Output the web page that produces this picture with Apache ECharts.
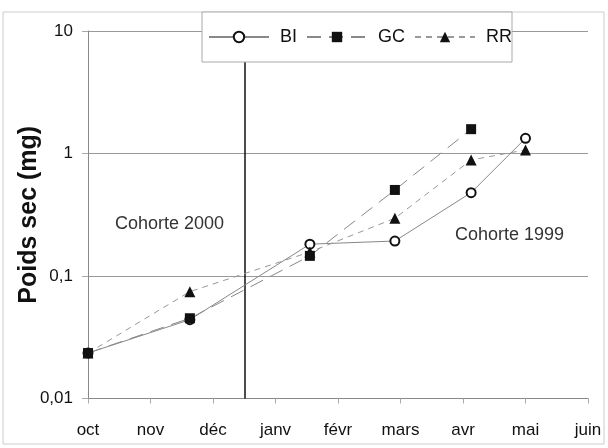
<!DOCTYPE html>
<html><head><meta charset="utf-8">
<script src="https://cdn.jsdelivr.net/npm/echarts@6/dist/echarts.min.js"></script>
<style>html,body{margin:0;padding:0;background:#fff}#c{width:608px;height:448px}</style>
</head><body><div id="c"></div>
<script>
// Month tick labels (x axis value 0 = oct ... 8 = juin)
var monthLabels = ['oct','nov','déc','janv','févr','mars','avr','mai','juin'];
// Sampling dates expressed in months from 1 Oct
var sampleX = [0, 1.63, 3.55, 4.91, 6.13, 7.0];
// Dry weight (mg)
var BI = [0.0235, 0.044, 0.182, 0.193, 0.479, 1.33];
var GC = [0.0235, 0.0452, 0.146, 0.504, 1.58, null];
var RR = [0.0235, 0.0745, 0.157, 0.296, 0.885, 1.07];
// Cohort separation date (months from 1 Oct)
var cohortSplit = 2.51;
var yTicks = ['10', '1', '0,1', '0,01'];

function pairs(vals){
  var out = [];
  for (var i = 0; i < vals.length; i++) if (vals[i] != null) out.push([sampleX[i], vals[i]]);
  return out;
}
var font = '"Liberation Sans", Arial, sans-serif';
var chart = echarts.init(document.getElementById('c'), null, {renderer:'canvas'});
chart.setOption({
  animation:false,
  backgroundColor:'#fff',
  grid:{left:88, right:20, top:31, bottom:49.5, containLabel:false, outerBoundsMode:'none'},
  legend:{
    left:202, top:12, orient:'horizontal', z:50, zlevel:0,
    itemWidth:60, itemHeight:13, itemGap:9,
    padding:[16,0,16,6],
    backgroundColor:'#fff', borderColor:'#aaa', borderWidth:1,
    textStyle:{fontFamily:font, fontSize:18, color:'#111', padding:[0,0,0,6]},
    data:['BI','GC','RR']
  },
  xAxis:{
    type:'value', min:0, max:8, interval:1,
    axisLine:{lineStyle:{color:'#888', width:1}},
    axisTick:{show:true, length:5, lineStyle:{color:'#aaa'}},
    splitLine:{show:false},
    axisLabel:{fontFamily:font, fontSize:17, color:'#111', margin:23,
      formatter:function(v){return monthLabels[Math.round(v)] || '';}}
  },
  yAxis:{
    type:'log', logBase:10, min:0.01, max:10,
    name:'Poids sec (mg)', nameLocation:'middle', nameGap:46, nameRotate:90,
    nameMoveOverlap:false,
    nameTextStyle:{fontFamily:font, fontSize:25, fontWeight:'bold', color:'#111'},
    axisLine:{show:true, lineStyle:{color:'#888', width:1}},
    axisTick:{show:true, length:6, lineStyle:{color:'#aaa'}},
    splitLine:{show:true, lineStyle:{color:'#999', width:1}},
    axisLabel:{fontFamily:font, fontSize:17, color:'#111', margin:15,
      formatter:function(v){
        var idx = Math.round(1 - Math.log10(v));
        return yTicks[idx] != null ? yTicks[idx] : String(v).replace('.', ',');
      }}
  },
  graphic:[
    {type:'rect', shape:{x:3, y:12, width:601, height:432}, style:{fill:null, stroke:'#ccc', lineWidth:1}, z:-10, silent:true},
    {type:'text', left:115, top:215, style:{text:'Cohorte 2000', fontFamily:font, fontSize:18, fill:'#333'}},
    {type:'text', left:455, top:226, style:{text:'Cohorte 1999', fontFamily:font, fontSize:18, fill:'#333'}}
  ],
  series:[
    {name:'BI', type:'line', data:pairs(BI), symbol:'circle', symbolSize:9,
      itemStyle:{color:'#fff', borderColor:'#111', borderWidth:2},
      lineStyle:{color:'#888', width:1, type:'solid'}, z:3,
      markLine:{silent:true, symbol:'none', label:{show:false}, z:1,
        lineStyle:{color:'#111', width:1.5, type:'solid'},
        data:[{xAxis:cohortSplit}]}},
    {name:'GC', type:'line', data:pairs(GC), symbol:'rect', symbolSize:10,
      itemStyle:{color:'#111', borderColor:'#111', borderWidth:0},
      lineStyle:{color:'#888', width:1, type:[14,8]}, z:3},
    {name:'RR', type:'line', data:pairs(RR), symbol:'triangle', symbolSize:11,
      itemStyle:{color:'#111', borderColor:'#111', borderWidth:0},
      lineStyle:{color:'#999', width:1, type:[6,5]}, z:3}
  ]
});
</script></body></html>
